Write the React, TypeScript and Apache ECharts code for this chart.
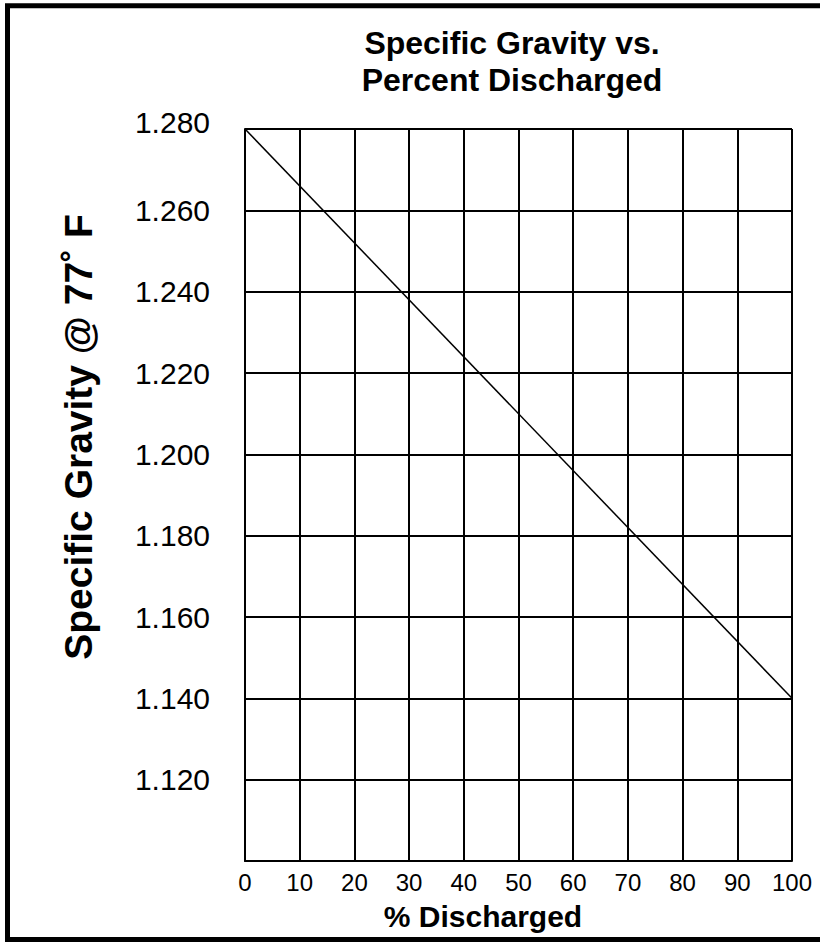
import React, { useEffect, useRef } from "react";
import * as echarts from "echarts";

const pctDischarged = [0, 100];
const specificGravity = [1.28, 1.14];
const titleLines = ["Specific Gravity vs.", "Percent Discharged"];
const yAxisTitle = "Specific Gravity @ 77˚ F";
const xAxisTitle = "% Discharged";
const yMin = 1.1;
const yMax = 1.28;
const yStep = 0.02;
const xMin = 0;
const xMax = 100;
const xStep = 10;

const FONT = "'Liberation Sans', Arial, Helvetica, sans-serif";

export default function App() {
  const ref = useRef<HTMLDivElement>(null);
  useEffect(() => {
    document.body.style.margin = "0";
    if (!ref.current) return;
    const chart = echarts.init(ref.current, null, { renderer: "svg" });
    chart.setOption({
      animation: false,
      backgroundColor: "#fff",
      grid: { left: 245, top: 129, width: 547, height: 732, containLabel: false },
      xAxis: {
        type: "value",
        min: xMin,
        max: xMax,
        interval: xStep,
        axisLine: { show: true, lineStyle: { color: "#000", width: 2 } },
        axisTick: { show: false },
        splitLine: { show: true, lineStyle: { color: "#000", width: 2 } },
        axisLabel: { color: "#000", fontSize: 24, fontFamily: FONT, margin: 9 },
      },
      yAxis: {
        type: "value",
        min: yMin,
        max: yMax,
        interval: yStep,
        showMinLabel: false,
        axisLine: { show: true, lineStyle: { color: "#000", width: 2 } },
        axisTick: { show: false },
        splitLine: { show: true, lineStyle: { color: "#000", width: 2 } },
        axisLabel: {
          color: "#000",
          fontSize: 30,
          fontFamily: FONT,
          margin: 35,
          formatter: (v: number) => {
            if (v < yMin + yStep / 2) return "";
            const s = v.toFixed(3);
            if (Math.abs(v - yMax) < 1e-6) return "{t|" + s + "}";
            return s;
          },
          rich: {
            t: { color: "#000", fontSize: 30, fontFamily: FONT, padding: [0, 0, 13, 0] },
          },
        },
      },
      series: [
        {
          type: "line",
          data: pctDischarged.map((x, i) => [x, specificGravity[i]]),
          symbol: "none",
          lineStyle: { color: "#000", width: 1.5 },
          silent: true,
        },
      ],
      graphic: [
        {
          type: "rect",
          shape: { x: 7.5, y: 5.75, width: 840, height: 933.75 },
          style: { fill: "none", stroke: "#000", lineWidth: 5 },
          silent: true,
        },
        {
          type: "text",
          x: 512,
          y: 43,
          style: {
            text: titleLines[0],
            fill: "#000",
            fontSize: 32,
            fontWeight: "bold",
            fontFamily: FONT,
            align: "center",
            verticalAlign: "middle",
          },
        },
        {
          type: "text",
          x: 512,
          y: 79.5,
          style: {
            text: titleLines[1],
            fill: "#000",
            fontSize: 32,
            fontWeight: "bold",
            fontFamily: FONT,
            align: "center",
            verticalAlign: "middle",
          },
        },
        {
          type: "text",
          x: 78,
          y: 437,
          rotation: Math.PI / 2,
          style: {
            text: yAxisTitle,
            fill: "#000",
            fontSize: 39,
            fontWeight: "bold",
            fontFamily: FONT,
            align: "center",
            verticalAlign: "middle",
          },
        },
        {
          type: "text",
          x: 483,
          y: 916,
          style: {
            text: xAxisTitle,
            fill: "#000",
            fontSize: 30,
            fontWeight: "bold",
            fontFamily: FONT,
            align: "center",
            verticalAlign: "middle",
          },
        },
      ],
    });
    return () => chart.dispose();
  }, []);
  return <div ref={ref} style={{ width: 820, height: 942 }} />;
}
